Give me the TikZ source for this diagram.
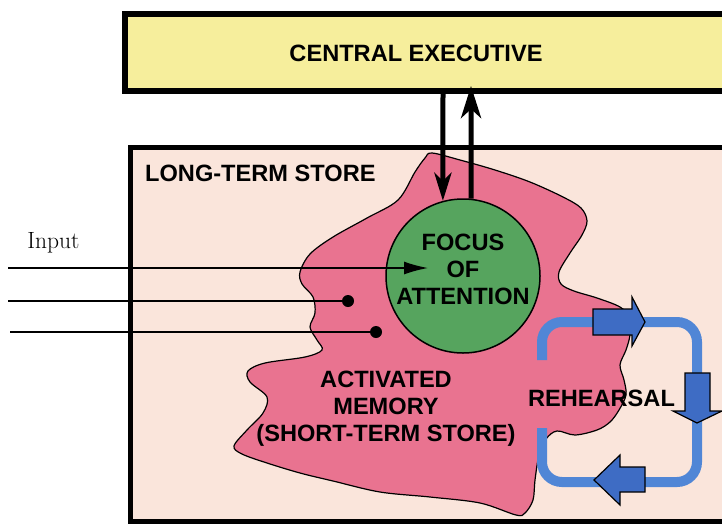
\documentclass[tikz,border=0pt]{standalone}
\usepackage{fontspec}
\setsansfont{Liberation Sans}
\usetikzlibrary{arrows.meta}
\definecolor{ceyellow}{RGB}{246,238,156}
\definecolor{ltspeach}{RGB}{250,229,219}
\definecolor{blobpink}{RGB}{233,115,144}
\definecolor{focgreen}{RGB}{86,164,94}
\definecolor{loopblue}{RGB}{80,134,214}
\definecolor{arrowblue}{RGB}{62,108,196}
\tikzset{%
    boxlabel/.style={font=\sffamily\bfseries\fontsize{23.6}{27}\selectfont, align=center, inner sep=0pt},
    ctrl/.style={line width=5pt},
    inputline/.style={line width=1.4pt},
    memdot/.style={circle, fill=black, inner sep=0pt, minimum size=12pt},
    rehloop/.style={line width=10pt, color=loopblue, rounded corners=20pt},
    rehhead/.style={fill=arrowblue, draw=black, line width=1.2pt, line join=miter},
    %focus box/.style={thick,color=green}
}

\begin{document}
\begin{tikzpicture}[x=1pt, y=-1pt]

	\useasboundingbox (0,0) rectangle (722,525);
	\clip (0,0) rectangle (722,525);

	% central executive
	\draw[line width=6pt, fill=ceyellow] (125,13.5) rectangle (760,91);
	\node[boxlabel] (ce) at (416,53.5) {CENTRAL EXECUTIVE};
	\coordinate (ce-down) at (443,91);
	\coordinate (ce-up) at (471,86);

	% long-term store
	\draw[line width=5pt, fill=ltspeach] (130,147) rectangle (760,521);
	\node[boxlabel, anchor=west] (lts) at (145,173.5) {LONG-TERM STORE};

	% activated memory
	\draw[line width=1.2pt, fill=blobpink] plot[smooth cycle, tension=0.55] coordinates {
		(432,153) (460,160) (495,170) (530,182) (563,197) (581,208) (587,221)
		(582,235) (570,253) (559,272) (561,284) (574,291) (597,298) (620,307)
		(630,318) (630,335) (626,350) (620,365) (624,380) (626,395) (619,410)
		(610,422) (597,430) (575,435) (557,431) (546,439) (539,455) (535,480)
		(533,500) (525,513) (516,515) (480,503) (430,497) (380,492) (333,481)
		(300,473) (267,463) (242,454) (234,446) (247,430) (263,413) (267,397)
		(250,382) (248,371) (265,363) (305,357) (322,350) (317,340) (310,327)
		(315,313) (313,297) (302,284) (300,272) (310,254) (333,237) (367,218)
		(398,200) (415,172) (425,158)};
	\node[boxlabel] (actmem) at (386,409) {ACTIVATED\\MEMORY\\(SHORT-TERM STORE)};

	% focus of attention
	\node[circle, draw, line width=1.5pt, fill=focgreen, minimum size=154pt, inner sep=0pt] (focus) at (463,276) {};
	\node[boxlabel] (foclbl) at (463,269.5) {FOCUS\\OF\\ATTENTION};

	% input
	\node[font=\fontsize{23.5}{26}\selectfont, anchor=base, inner sep=0pt] (input) at (53.5,248) {Input};
	\coordinate (in1) at (8,268);
	\coordinate (in2) at (8,301);
	\coordinate (in3) at (10,332);
	\coordinate (foc-in) at (428,268);
	\node[memdot] (m1) at (348,301) {};
	\node[memdot] (m2) at (376,332) {};
	\draw[inputline, -{Latex[length=24pt, width=13pt]}] (in1) -- (foc-in);
	\draw[inputline] (in2) -- (m1);
	\draw[inputline] (in3) -- (m2);

	% executive <-> focus
	\draw[ctrl, -{Stealth[length=28pt, width=17pt, inset=8pt]}] (ce-down) -- (focus.105);
	\draw[ctrl, -{Stealth[length=32pt, width=20pt, inset=9pt]}] (focus.84) -- (ce-up);

	% rehearsal
	\draw[rehloop] (542,360) -- (542,322) -- (697,322) -- (697,482) -- (542,482) -- (542,428);
	\draw[rehhead] (593,309) -- (632,309) -- (632,297) -- (645,322) -- (632,346) -- (632,335) -- (593,335) -- cycle;
	\draw[rehhead] (685,373) -- (710,373) -- (710,411) -- (722,411) -- (697,423) -- (673,411) -- (685,411) -- cycle;
	\draw[rehhead] (645,467) -- (645,492) -- (620,492) -- (620,505) -- (594,480) -- (620,455) -- (620,467) -- cycle;
	\node[boxlabel] (rehearsal) at (601.5,398.5) {REHEARSAL};

\end{tikzpicture}
\end{document}
